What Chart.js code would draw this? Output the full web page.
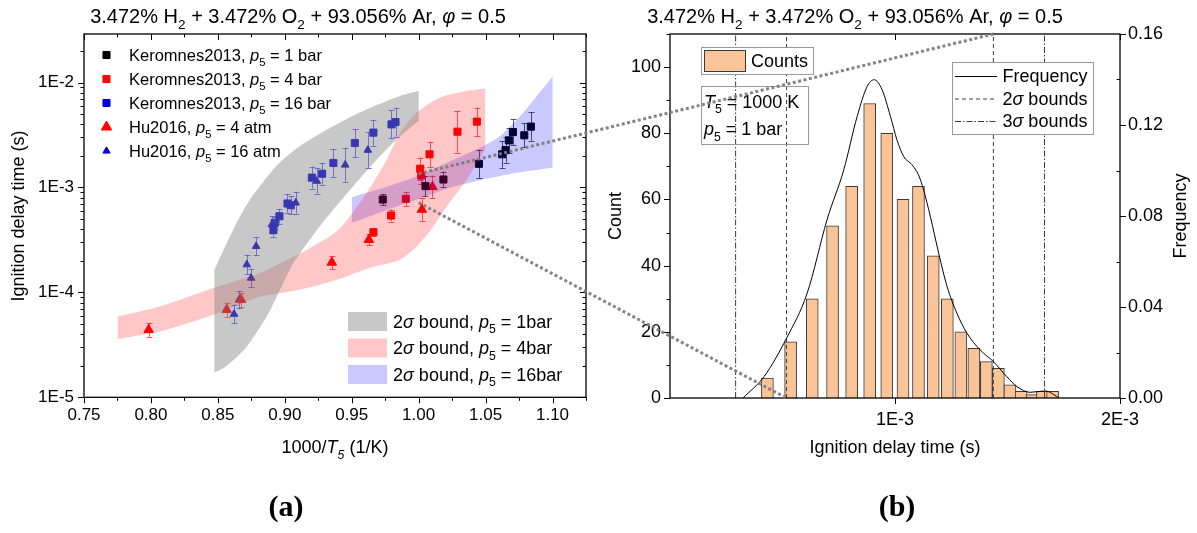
<!DOCTYPE html>
<html>
<head>
<meta charset="utf-8">
<script src="https://cdn.jsdelivr.net/npm/chart.js@4.4.1/dist/chart.umd.min.js"></script>
<style>
  html, body { margin: 0; padding: 0; background: #fff; }
  #wrap { position: relative; width: 1197px; height: 533px; overflow: hidden; background: #fff; }
  #wrap canvas { position: absolute; top: 0; }
  #cA { left: 0; }
  #cB { left: 600px; }
  #ov { left: 0; pointer-events: none; }
  .tag { position: absolute; transform: translate(-50%, -50%);
         font: bold 30px "Liberation Serif", "Times New Roman", serif; color: #000; }
</style>
</head>
<body>
<div id="wrap">
  <canvas id="cA" width="600" height="480"></canvas>
  <canvas id="cB" width="597" height="480"></canvas>
  <canvas id="ov" width="1197" height="533"></canvas>
  <div class="tag" style="left:286px; top:506px;">(a)</div>
  <div class="tag" style="left:897px; top:506px;">(b)</div>
</div>
<script>
// ================= Panel (a): ignition delay time vs 1000/T5 =================
const xTicksA = [0.75, 0.80, 0.85, 0.90, 0.95, 1.00, 1.05, 1.10];
const xMinorA = [0.775, 0.825, 0.875, 0.925, 0.975, 1.025, 1.075, 1.125];
const yTicksA = [1e-5, 1e-4, 1e-3, 1e-2];
const yMinorA = [2e-5, 3e-5, 4e-5, 5e-5, 6e-5, 7e-5, 8e-5, 9e-5,
                 2e-4, 3e-4, 4e-4, 5e-4, 6e-4, 7e-4, 8e-4, 9e-4,
                 2e-3, 3e-3, 4e-3, 5e-3, 6e-3, 7e-3, 8e-3, 9e-3, 2e-2];

// measurements (error half-widths in decades)
const ker1X   = [0.9732, 1.0051, 1.0185, 1.0450, 1.0624, 1.0649, 1.0674, 1.0704, 1.0789, 1.0838];
const ker1Y   = [7.67e-4, 1.03e-3, 1.19e-3, 1.68e-3, 2.07e-3, 2.27e-3, 2.81e-3, 3.37e-3, 3.14e-3, 3.80e-3];
const ker1Err = [0.054, 0.099, 0.076, 0.134, 0.127, 0.12, 0.12, 0.126, 0.115, 0.135];

const ker4X   = [0.9662, 0.9794, 0.9904, 1.0011, 1.0019, 1.0081, 1.0290, 1.0435];
const ker4Y   = [3.74e-4, 5.40e-4, 7.79e-4, 1.51e-3, 1.30e-3, 2.07e-3, 3.40e-3, 4.24e-3];
const ker4Err = [0.04, 0.057, 0.067, 0.105, 0.08, 0.12, 0.2, 0.134];

const ker16X   = [0.8915, 0.8925, 0.8960, 0.9020, 0.9045, 0.9202, 0.9279, 0.9363, 0.9523, 0.9662, 0.9797, 0.9827];
const ker16Y   = [3.91e-4, 4.60e-4, 5.31e-4, 7.03e-4, 6.77e-4, 1.24e-3, 1.35e-3, 1.71e-3, 2.65e-3, 3.33e-3, 3.99e-3, 4.20e-3];
const ker16Err = [0.06, 0.06, 0.07, 0.086, 0.086, 0.105, 0.105, 0.134, 0.134, 0.124, 0.134, 0.138];

const hu4X   = [0.7983, 0.8566, 0.8673, 0.9351, 0.9628, 1.0024, 1.0103];
const hu4Y   = [4.40e-5, 6.82e-5, 8.5e-5, 1.93e-4, 3.18e-4, 6.16e-4, 1.015e-3];
const hu4Err = [0.067, 0.067, 0.067, 0.064, 0.055, 0.107, 0.107];

const hu16X   = [0.8621, 0.8659, 0.8716, 0.8748, 0.8786, 0.8903, 0.9082, 0.9239, 0.9451, 0.9620];
const hu16Y   = [6.21e-5, 8.5e-5, 1.84e-4, 1.37e-4, 2.75e-4, 4.43e-4, 7.14e-4, 1.15e-3, 1.64e-3, 2.27e-3];
const hu16Err = [0.089, 0.083, 0.093, 0.089, 0.086, 0.08, 0.105, 0.12, 0.16, 0.17];

// 2-sigma uncertainty bands: upper and lower edges, left to right
const band1UpX = [0.8474, 0.8567, 0.8666, 0.8741, 0.8815, 0.8940, 0.9114, 0.9363, 0.9613, 0.9862, 1.0000];
const band1UpY = [1.645e-4, 2.96e-4, 5.31e-4, 7.67e-4, 1.03e-3, 1.62e-3, 2.48e-3, 3.85e-3, 5.56e-3, 7.45e-3, 8.31e-3];
const band1LoX = [0.8474, 0.8541, 0.8616, 0.8716, 0.8865, 0.8965, 0.9064, 0.9214, 0.9314, 0.9513, 0.9712, 0.9862, 1.0000];
const band1LoY = [1.72e-5, 1.89e-5, 2.27e-5, 3.04e-5, 5.89e-5, 1.06e-4, 1.906e-4, 3.55e-4, 5.16e-4, 1.03e-3, 1.99e-3, 3.09e-3, 4.30e-3];

const band4UpX = [0.7752, 0.8068, 0.8466, 0.8815, 0.8990, 0.9189, 0.9389, 0.9513, 0.9638, 0.9762, 0.9862, 0.9987, 1.0161, 1.0360, 1.0497];
const band4UpY = [5.89e-5, 7.34e-5, 1.10e-4, 1.53e-4, 1.96e-4, 2.65e-4, 3.82e-4, 5.89e-4, 9.99e-4, 1.85e-3, 3.33e-3, 5.17e-3, 7.19e-3, 8.31e-3, 8.76e-3];
const band4LoX = [0.7752, 0.8068, 0.8466, 0.8815, 0.9114, 0.9389, 0.9638, 0.9862, 0.9987, 1.0111, 1.0211, 1.0360, 1.0497];
const band4LoY = [3.58e-5, 4.23e-5, 6.11e-5, 9.08e-5, 1.06e-4, 1.32e-4, 1.72e-4, 2.05e-4, 2.75e-4, 4.27e-4, 6.62e-4, 1.19e-3, 2.31e-3];

const band16UpX = [0.9501, 0.9737, 0.9987, 1.0235, 1.0484, 1.0609, 1.0759, 1.0883, 1.1000];
const band16UpY = [8.07e-4, 9.93e-4, 1.28e-3, 1.78e-3, 2.48e-3, 3.09e-3, 4.80e-3, 7.45e-3, 1.14e-2];
const band16LoX = [0.9501, 0.9737, 0.9987, 1.0235, 1.0484, 1.0734, 1.1000];
const band16LoY = [4.60e-4, 5.93e-4, 7.67e-4, 9.93e-4, 1.19e-3, 1.38e-3, 1.54e-3];

// ================= Panel (b): sampled ignition delay distribution =================
const binCenters = [0.675e-3, 0.725e-3, 0.775e-3, 0.825e-3, 0.875e-3, 0.925e-3, 0.975e-3,
                    1.025e-3, 1.075e-3, 1.125e-3, 1.175e-3, 1.225e-3, 1.275e-3, 1.325e-3,
                    1.375e-3, 1.425e-3, 1.475e-3, 1.525e-3, 1.575e-3, 1.625e-3];
const counts = [6, 17, 30, 52, 64, 89, 80, 60, 64, 43, 30, 20, 15, 11, 9, 4, 2, 1, 2, 2];

const freqX = [0.626e-3, 0.668e-3, 0.716e-3, 0.763e-3, 0.811e-3, 0.854e-3, 0.890e-3, 0.918e-3,
               0.938e-3, 0.961e-3, 0.986e-3, 1.006e-3, 1.027e-3, 1.054e-3, 1.075e-3, 1.092e-3,
               1.115e-3, 1.144e-3, 1.174e-3, 1.210e-3, 1.248e-3, 1.300e-3, 1.354e-3, 1.411e-3,
               1.456e-3, 1.516e-3, 1.588e-3, 1.654e-3];
const freqY = [0, 0.0094, 0.0263, 0.0461, 0.0783, 0.1003, 0.1238, 0.1370,
               0.1399, 0.1355, 0.1238, 0.1135, 0.1062, 0.1025, 0.0981, 0.0915,
               0.0798, 0.0637, 0.0490, 0.0373, 0.0285, 0.0211, 0.0160, 0.0094,
               0.0050, 0.0025, 0.0031, 0.0003];

const sigma2 = [0.716e-3, 1.354e-3];
const sigma3 = [0.612e-3, 1.585e-3];

const xTicksB = [1e-3, 2e-3];
const countTicks = [0, 20, 40, 60, 80, 100];
const countMinor = [10, 30, 50, 70, 90, 110];
const freqTicks = [0, 0.04, 0.08, 0.12, 0.16];
const freqMinor = [0.02, 0.06, 0.10, 0.14];

const zoomAt = 1.0;   // 1000/T5 of the condition expanded in panel (b)

// ================= text =================
const FONT = '"Liberation Sans", Arial, Helvetica, sans-serif';
const mixTitle = [['3.472% H'], ['2', 's'], [' + 3.472% O'], ['2', 's'], [' + 93.056% Ar, '], ['φ', 'i'], [' = 0.5']];
const seriesLabels = [
  [['Keromnes2013, '], ['p', 'i'], ['5', 's'], [' = 1 bar']],
  [['Keromnes2013, '], ['p', 'i'], ['5', 's'], [' = 4 bar']],
  [['Keromnes2013, '], ['p', 'i'], ['5', 's'], [' = 16 bar']],
  [['Hu2016, '], ['p', 'i'], ['5', 's'], [' = 4 atm']],
  [['Hu2016, '], ['p', 'i'], ['5', 's'], [' = 16 atm']]
];
const bandLabels = [
  [['2'], ['σ', 'i'], [' bound, '], ['p', 'i'], ['5', 's'], [' = 1bar']],
  [['2'], ['σ', 'i'], [' bound, '], ['p', 'i'], ['5', 's'], [' = 4bar']],
  [['2'], ['σ', 'i'], [' bound, '], ['p', 'i'], ['5', 's'], [' = 16bar']]
];
const xTitleA = [['1000/'], ['T', 'i'], ['5', 'is'], [' (1/K)']];
const yTitle = [['Ignition delay time (s)']];
const condLines = [
  [['T', 'i'], ['5', 's'], [' = 1000 K']],
  [['p', 'i'], ['5', 's'], [' = 1 bar']]
];
const histLegend = [
  [['Frequency']],
  [['2'], ['σ', 'i'], [' bounds']],
  [['3'], ['σ', 'i'], [' bounds']]
];

// draws a run of plain / italic / subscript pieces
function rich(ctx, x, y, parts, size, align) {
  const segs = parts.map(p => {
    const f = p[1] || '';
    const sub = f.includes('s'), it = f.includes('i');
    const fs = sub ? size * 0.68 : size;
    const font = (it ? 'italic ' : '') + fs.toFixed(2) + 'px ' + FONT;
    ctx.font = font;
    return { t: p[0], font, w: ctx.measureText(p[0]).width, dy: sub ? size * 0.3 : 0 };
  });
  const total = segs.reduce((s, g) => s + g.w, 0);
  let cx = align === 'center' ? x - total / 2 : align === 'right' ? x - total : x;
  ctx.textAlign = 'left';
  ctx.textBaseline = 'alphabetic';
  ctx.fillStyle = '#000';
  for (const g of segs) { ctx.font = g.font; ctx.fillText(g.t, cx, y + g.dy); cx += g.w; }
  return total;
}
function richMid(ctx, x, cy, parts, size, align) { return rich(ctx, x, cy + size * 0.36, parts, size, align); }
function richVertical(ctx, cx, cy, parts, size) {
  ctx.save();
  ctx.translate(cx, cy);
  ctx.rotate(-Math.PI / 2);
  richMid(ctx, 0, 0, parts, size, 'center');
  ctx.restore();
}
function sciLabel(v) {
  const e = Math.floor(Math.log10(v) + 1e-9);
  return Math.round(v / Math.pow(10, e)) + 'E' + e;
}
const pts = (xs, ys) => xs.map((x, i) => ({ x, y: ys[i] }));
// closed outline: upper edge left->right, lower edge right->left;
// end points are repeated so the smoothed outline keeps sharp corners
function polygon(ux, uy, lx, ly) {
  const up = pts(ux, uy), lo = pts(lx, ly).reverse();
  const ends = a => [a[0]].concat(a, [a[a.length - 1]]);
  return ends(up).concat(ends(lo));
}

// ================= plugins =================
const frameTicks = {
  id: 'frameTicks',
  afterDraw(chart, args, opts) {
    const { ctx, chartArea: a } = chart;
    ctx.save();
    ctx.strokeStyle = '#000';
    ctx.lineWidth = 1;
    ctx.beginPath();
    for (const s of opts.sides) {
      const sc = chart.scales[s.scale];
      const put = (vals, len, out) => vals.forEach(v => {
        const p = Math.round(sc.getPixelForValue(v)) + 0.5;
        const d = out ? len : -len;
        if (s.edge === 'bottom') { ctx.moveTo(p, a.bottom); ctx.lineTo(p, a.bottom + d); }
        else if (s.edge === 'top') { ctx.moveTo(p, a.top); ctx.lineTo(p, a.top - d); }
        else if (s.edge === 'left') { ctx.moveTo(a.left, p); ctx.lineTo(a.left - d, p); }
        else { ctx.moveTo(a.right, p); ctx.lineTo(a.right + d, p); }
      });
      put(s.major || [], 6, s.out);
      put(s.minor || [], 3.5, s.minorOut === undefined ? s.out : s.minorOut);
    }
    ctx.stroke();
    ctx.lineWidth = 1.3;
    ctx.strokeRect(a.left, a.top, a.right - a.left, a.bottom - a.top);
    ctx.restore();
  }
};

const errorBars = {
  id: 'errorBars',
  beforeDatasetsDraw(chart) {
    const { ctx } = chart;
    const ys = chart.scales.y;
    chart.data.datasets.forEach((ds, i) => {
      if (!ds.errDex) return;
      const meta = chart.getDatasetMeta(i);
      ctx.save();
      ctx.strokeStyle = ds.errColor;
      ctx.lineWidth = 1;
      ctx.beginPath();
      meta.data.forEach((el, j) => {
        const v = ds.data[j].y, e = ds.errDex[j];
        const hi = ys.getPixelForValue(v * Math.pow(10, e));
        const lo = ys.getPixelForValue(v / Math.pow(10, e));
        const x = Math.round(el.x) + 0.5;
        ctx.moveTo(x, hi); ctx.lineTo(x, lo);
        ctx.moveTo(x - 3, Math.round(hi) + 0.5); ctx.lineTo(x + 3, Math.round(hi) + 0.5);
        ctx.moveTo(x - 3, Math.round(lo) + 0.5); ctx.lineTo(x + 3, Math.round(lo) + 0.5);
      });
      ctx.stroke();
      ctx.restore();
    });
  }
};

const textA = {
  id: 'textA',
  afterDraw(chart) {
    const { ctx } = chart;
    ctx.save();
    rich(ctx, 298, 23, mixTitle, 20, 'center');
    richVertical(ctx, 18, 216, yTitle, 18);
    richMid(ctx, 335, 447, xTitleA, 18, 'center');
    // marker legend
    const rows = [55, 79, 103, 127, 151];
    [4, 5, 6, 7, 8].forEach((di, k) => {
      const ds = chart.data.datasets[di];
      ctx.fillStyle = ds.backgroundColor;
      ctx.strokeStyle = ds.borderColor;
      ctx.lineWidth = 1;
      Chart.helpers.drawPoint(ctx, { pointStyle: ds.pointStyle, radius: ds.legendRadius, borderWidth: 1, rotation: 0 }, 106.5, rows[k]);
      richMid(ctx, 129, rows[k], seriesLabels[k], 16.5, 'left');
    });
    // band legend
    const brow = [312, 338.5, 365];
    [0, 1, 2].forEach(k => {
      const ds = chart.data.datasets[k];
      ctx.fillStyle = ds.backgroundColor;
      ctx.fillRect(348, brow[k], 39, 19);
      richMid(ctx, 393, brow[k] + 9.5, bandLabels[k], 18, 'left');
    });
    ctx.restore();
  }
};

const textB = {
  id: 'textB',
  afterDraw(chart) {
    const { ctx } = chart;
    ctx.save();
    rich(ctx, 255, 23, mixTitle, 20, 'center');
    richVertical(ctx, 15, 216, [['Count']], 18);
    richVertical(ctx, 580, 216, [['Frequency']], 18);
    richMid(ctx, 295, 447, yTitle, 18, 'center');
    // counts legend
    ctx.fillStyle = '#fff';
    ctx.fillRect(101.5, 47.5, 112, 27);
    ctx.strokeStyle = '#9a9a9a';
    ctx.lineWidth = 1;
    ctx.strokeRect(101.5, 47.5, 112, 27);
    const bar = chart.data.datasets[0];
    ctx.fillStyle = bar.backgroundColor;
    ctx.fillRect(104.5, 50.5, 41, 21);
    ctx.strokeStyle = bar.borderColor;
    ctx.strokeRect(104.5, 50.5, 41, 21);
    richMid(ctx, 151, 61, [['Counts']], 18, 'left');
    // condition box
    ctx.strokeStyle = '#9a9a9a';
    ctx.strokeRect(101.5, 86.5, 107, 58);
    richMid(ctx, 104, 101.5, condLines[0], 18, 'left');
    richMid(ctx, 104, 129, condLines[1], 18, 'left');
    // line legend
    ctx.fillStyle = '#fff';
    ctx.fillRect(352.5, 62.5, 141, 72);
    ctx.strokeRect(352.5, 62.5, 141, 72);
    const rows = [76, 98.5, 121];
    [1, 2, 4].forEach((di, k) => {
      const ds = chart.data.datasets[di];
      ctx.strokeStyle = ds.borderColor;
      ctx.lineWidth = ds.borderWidth;
      ctx.setLineDash(ds.borderDash || []);
      ctx.beginPath();
      ctx.moveTo(355, rows[k] + 0.5); ctx.lineTo(397, rows[k] + 0.5);
      ctx.stroke();
      ctx.setLineDash([]);
      richMid(ctx, 402.5, rows[k], histLegend[k], 18, 'left');
    });
    ctx.restore();
  }
};

// ================= chart (a) =================
const markerSet = (label, xs, ys, err, color, style, r, legendR, errColor) => ({
  label, data: pts(xs, ys), errDex: err, errColor,
  pointStyle: style, pointRadius: r, legendRadius: legendR,
  backgroundColor: color, borderColor: color, borderWidth: 1, order: 1
});
const bandSet = (label, ux, uy, lx, ly, color) => ({
  label, data: polygon(ux, uy, lx, ly), showLine: true, fill: 'shape',
  backgroundColor: color, borderColor: 'rgba(0,0,0,0)', borderWidth: 1,
  pointRadius: 0, tension: 0.25, order: 0
});

const tickFont = (s) => ({ family: FONT, size: s });

const chartA = new Chart(document.getElementById('cA'), {
  type: 'scatter',
  data: {
    datasets: [
      bandSet('2σ bound, p5 = 1bar', band1UpX, band1UpY, band1LoX, band1LoY, 'rgba(128,128,128,0.43)'),
      bandSet('2σ bound, p5 = 4bar', band4UpX, band4UpY, band4LoX, band4LoY, 'rgba(255,0,0,0.22)'),
      bandSet('2σ bound, p5 = 16bar', band16UpX, band16UpY, band16LoX, band16LoY, 'rgba(0,0,255,0.21)'),
      { data: [], label: '' },
      markerSet('Keromnes2013, p5 = 1 bar', ker1X, ker1Y, ker1Err, '#000000', 'rect', 5, 5, 'rgba(60,60,60,0.85)'),
      markerSet('Keromnes2013, p5 = 4 bar', ker4X, ker4Y, ker4Err, '#ff0000', 'rect', 5, 5, 'rgba(255,40,40,0.75)'),
      markerSet('Keromnes2013, p5 = 16 bar', ker16X, ker16Y, ker16Err, '#0000d8', 'rect', 5, 5, 'rgba(40,40,255,0.7)'),
      markerSet('Hu2016, p5 = 4 atm', hu4X, hu4Y, hu4Err, '#ff0000', 'triangle', 5.5, 6, 'rgba(255,40,40,0.75)'),
      markerSet('Hu2016, p5 = 16 atm', hu16X, hu16Y, hu16Err, '#0000d8', 'triangle', 4.4, 4.2, 'rgba(40,40,255,0.7)')
    ]
  },
  options: {
    responsive: false, animation: false, events: [],
    layout: { padding: { top: 34, right: 14, left: 0, bottom: 0 } },
    plugins: {
      legend: { display: false }, tooltip: { enabled: false },
      frameTicks: { sides: [
        { edge: 'bottom', scale: 'x', major: xTicksA, minor: xMinorA, out: true },
        { edge: 'top', scale: 'x', major: xTicksA, minor: xMinorA, out: false },
        { edge: 'left', scale: 'y', major: yTicksA, minor: yMinorA, out: true },
        { edge: 'right', scale: 'y', major: yTicksA, minor: yMinorA, out: false }
      ] }
    },
    scales: {
      x: {
        type: 'linear', min: 0.75, max: 1.125,
        grid: { display: false, drawTicks: false }, border: { display: false },
        afterBuildTicks: s => { s.ticks = xTicksA.map(v => ({ value: v })); },
        afterFit: s => { s.height = 82.7; },
        ticks: { padding: 8, autoSkip: false, maxRotation: 0, color: '#000', font: tickFont(17),
                 callback: v => v.toFixed(2) }
      },
      y: {
        type: 'logarithmic', min: 1e-5, max: 0.029,
        grid: { display: false, drawTicks: false }, border: { display: false },
        afterBuildTicks: s => { s.ticks = yTicksA.map(v => ({ value: v })); },
        afterFit: s => { s.width = 84; },
        ticks: { padding: 10, autoSkip: false, color: '#000', font: tickFont(17), callback: v => sciLabel(v) }
      }
    }
  },
  plugins: [errorBars, frameTicks, textA]
});

// ================= chart (b) =================
const sigmaLine = (v, dash) => ({
  type: 'line', data: [{ x: v, y: 0 }, { x: v, y: 0.16 }], yAxisID: 'yF',
  borderColor: '#3c3c3c', borderWidth: 1, borderDash: dash, pointRadius: 0, order: 1
});

const chartB = new Chart(document.getElementById('cB'), {
  type: 'bar',
  data: {
    datasets: [
      { type: 'bar', label: 'Counts', data: pts(binCenters, counts), yAxisID: 'y',
        backgroundColor: '#f9c598', borderColor: '#3a3a3a', borderWidth: 1, barThickness: 12, order: 3 },
      { type: 'line', label: 'Frequency', data: pts(freqX, freqY), yAxisID: 'yF',
        borderColor: '#000', borderWidth: 1, pointRadius: 0, cubicInterpolationMode: 'monotone', order: 0 },
      sigmaLine(sigma2[0], [4, 3]),
      sigmaLine(sigma2[1], [4, 3]),
      sigmaLine(sigma3[0], [6, 2, 1.5, 2]),
      sigmaLine(sigma3[1], [6, 2, 1.5, 2])
    ]
  },
  options: {
    responsive: false, animation: false, events: [],
    layout: { padding: { top: 34, right: 0, left: 0, bottom: 0 } },
    plugins: {
      legend: { display: false }, tooltip: { enabled: false },
      frameTicks: { sides: [
        { edge: 'bottom', scale: 'x', major: xTicksB, out: true },
        { edge: 'top', scale: 'x', major: xTicksB, out: false },
        { edge: 'left', scale: 'y', major: countTicks, minor: countMinor, out: true },
        { edge: 'right', scale: 'yF', major: freqTicks, minor: freqMinor, out: true, minorOut: false }
      ] }
    },
    scales: {
      x: {
        type: 'logarithmic', min: 5e-4, max: 2e-3, offset: false,
        grid: { display: false, drawTicks: false }, border: { display: false },
        afterBuildTicks: s => { s.ticks = xTicksB.map(v => ({ value: v })); },
        afterFit: s => { s.height = 82; },
        ticks: { padding: 11, autoSkip: false, maxRotation: 0, color: '#000', font: tickFont(18),
                 callback: v => sciLabel(v) }
      },
      y: {
        type: 'linear', position: 'left', min: 0, max: 110,
        grid: { display: false, drawTicks: false }, border: { display: false },
        afterBuildTicks: s => { s.ticks = countTicks.map(v => ({ value: v })); },
        afterFit: s => { s.width = 70; },
        ticks: { padding: 9, autoSkip: false, color: '#000', font: tickFont(18) }
      },
      yF: {
        type: 'linear', position: 'right', min: 0, max: 0.16,
        grid: { display: false, drawTicks: false }, border: { display: false },
        afterBuildTicks: s => { s.ticks = freqTicks.map(v => ({ value: v })); },
        afterFit: s => { s.width = 77; },
        ticks: { padding: 8, autoSkip: false, color: '#000', font: tickFont(18), callback: v => v.toFixed(2) }
      }
    }
  },
  plugins: [frameTicks, textB]
});

// ================= connectors from panel (a) to the distribution =================
(function drawConnectors() {
  const ctx = document.getElementById('ov').getContext('2d');
  const ax = chartA.scales.x, ay = chartA.scales.y;
  const bx = chartB.scales.x, bf = chartB.scales.yF;
  const offB = 600;
  const ends = [[sigma2[1], bf.max], [sigma2[0], bf.min]];
  ctx.save();
  ctx.strokeStyle = 'rgba(125,125,125,0.95)';
  ctx.lineWidth = 3;
  ctx.setLineDash([3, 2.5]);
  for (const [v, f] of ends) {
    ctx.beginPath();
    ctx.moveTo(ax.getPixelForValue(zoomAt), ay.getPixelForValue(v));
    ctx.lineTo(offB + bx.getPixelForValue(v), bf.getPixelForValue(f));
    ctx.stroke();
  }
  ctx.restore();
})();
</script>
</body>
</html>
